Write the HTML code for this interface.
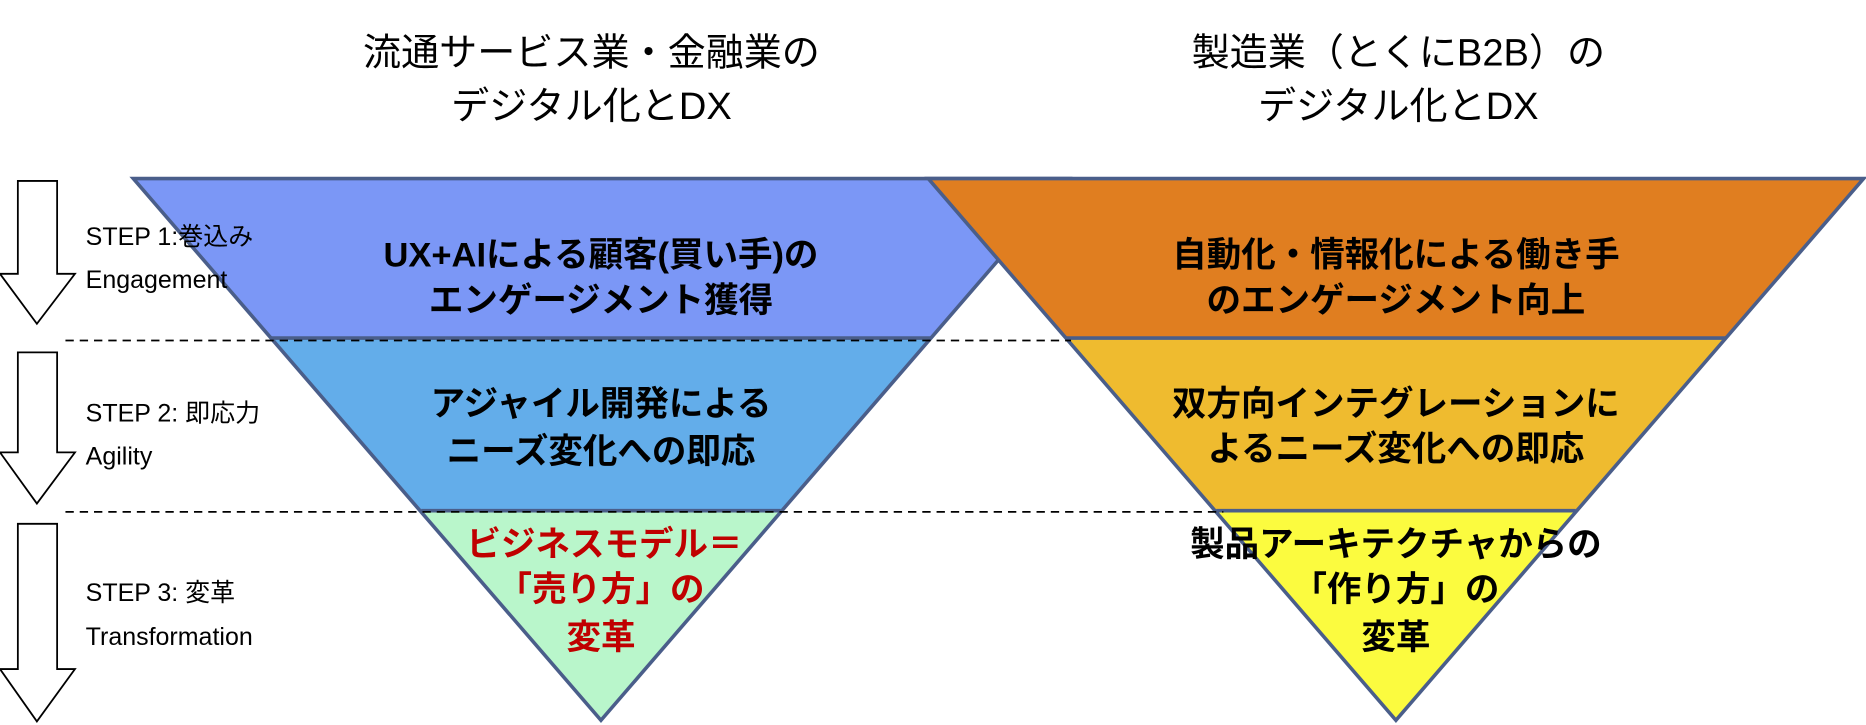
<!DOCTYPE html>
<html><head><meta charset="utf-8"><style>
html,body{margin:0;padding:0;background:#fff;}
svg{display:block;}
text{font-family:"Liberation Sans","Noto Sans CJK JP",sans-serif;}
</style></head><body>
<svg width="1866" height="725" viewBox="0 0 1568 609" preserveAspectRatio="none" xmlns="http://www.w3.org/2000/svg">
<g font-size="32" text-anchor="middle" fill="#000">
<text x="497" y="55">流通サービス業・金融業の</text>
<text x="497" y="100">デジタル化とDX</text>
<text x="1175" y="55">製造業（とくにB2B）の</text>
<text x="1175" y="100">デジタル化とDX</text>
</g>
<!-- left triangle -->
<polygon points="112,150 898,150 782,284 228,284" fill="#7b97f6"/>
<polygon points="228,284 782,284 656,429 354,429" fill="#63adea"/>
<polygon points="354,429 656,429 505,605" fill="#b9f6cb"/>
<g stroke="#4a5e8a" stroke-width="3" fill="none">
<polygon points="112,150 898,150 505,605"/>
<line x1="228" y1="284" x2="782" y2="284"/>
<line x1="354" y1="429" x2="656" y2="429"/>
</g>
<!-- right triangle -->
<polygon points="780,150 1566,150 1450,284 896,284" fill="#e07e20"/>
<polygon points="896,284 1450,284 1324,429 1022,429" fill="#efbb2f"/>
<polygon points="1022,429 1324,429 1173,605" fill="#fbfb3f"/>
<g stroke="#4a5e8a" stroke-width="3" fill="none">
<polygon points="780,150 1566,150 1173,605"/>
<line x1="896" y1="284" x2="1450" y2="284"/>
<line x1="1022" y1="429" x2="1324" y2="429"/>
</g>
<g stroke="#000" stroke-width="1.5" stroke-dasharray="7,5">
<line x1="55" y1="286" x2="900" y2="286"/>
<line x1="55" y1="430" x2="1028" y2="430"/>
</g>
<!-- arrows -->
<g stroke="#000" stroke-width="1.5" fill="#fff">
<polygon points="12,152 45,152 45,230 60,230 28,272 -3,230 12,230" transform="translate(3,0)"/>
<polygon points="12,296 45,296 45,380 60,380 28,423 -3,380 12,380" transform="translate(3,0)"/>
<polygon points="12,440 45,440 45,562 60,562 28,606 -3,562 12,562" transform="translate(3,0)"/>
</g>
<g font-size="21" fill="#000">
<text x="72" y="206">STEP 1:巻込み</text>
<text x="72" y="242">Engagement</text>
<text x="72" y="354">STEP 2: 即応力</text>
<text x="72" y="390">Agility</text>
<text x="72" y="505">STEP 3: 変革</text>
<text x="72" y="542">Transformation</text>
</g>
<g font-size="29" text-anchor="middle" fill="#000" font-weight="bold">
<text x="505" y="224">UX+AIによる顧客(買い手)の</text>
<text x="505" y="262">エンゲージメント獲得</text>
<text x="505" y="349">アジャイル開発による</text>
<text x="505" y="389">ニーズ変化への即応</text>
<text x="1173" y="224">自動化・情報化による働き手</text>
<text x="1173" y="262">のエンゲージメント向上</text>
<text x="1173" y="349">双方向インテグレーションに</text>
<text x="1173" y="387">よるニーズ変化への即応</text>
<text x="1173" y="467">製品アーキテクチャからの</text>
<text x="1173" y="505">「作り方」の</text>
<text x="1173" y="545">変革</text>
</g>
<g font-size="29" text-anchor="middle" fill="#c00000" font-weight="bold">
<text x="508" y="467">ビジネスモデル＝</text>
<text x="505" y="505">「売り方」の</text>
<text x="505" y="545">変革</text>
</g>
</svg>
</body></html>
